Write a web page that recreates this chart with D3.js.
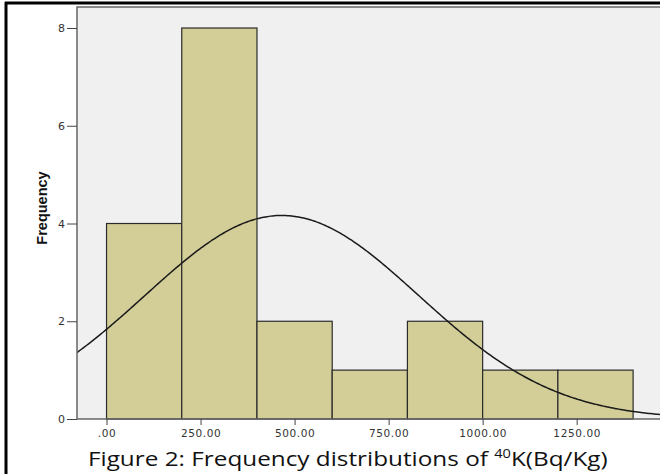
<!DOCTYPE html>
<html><head><meta charset="utf-8">
<script src="https://cdn.jsdelivr.net/npm/d3@7"></script>
<style>body{margin:0;background:#fff;overflow:hidden}svg{display:block;overflow:hidden}</style>
</head><body>
<svg id="c" width="660" height="474"></svg>
<script>
// Data
const binStarts = [0, 200, 400, 600, 800, 1000, 1200];
const binWidth = 200;
const counts = [4, 8, 2, 1, 2, 1, 1];
const xTicks = [0, 250, 500, 750, 1000, 1250];
const xTickLabels = [".00", "250.00", "500.00", "750.00", "1000.00", "1250.00"];
const yTicks = [0, 2, 4, 6, 8];
const curveMean = 466;
const curveSD = 364;
const yLabel = "Frequency";
const caption = "Figure 2: Frequency distributions of ";

const svg = d3.select("#c");
const L = 77, T = 7, R = 660, B = 419;
const x = d3.scaleLinear().domain([-78.5, 1471.5]).range([L, R]);
const y = d3.scaleLinear().domain([0, 8.43]).range([B, T]);

// plot background
svg.append("rect").attr("x", L).attr("y", T).attr("width", R - L).attr("height", B - T)
  .attr("fill", "#F0F0F0");

// bars
const bins = binStarts.map((s, i) => ({ s, c: counts[i] }));
svg.selectAll("rect.bar").data(bins).enter().append("rect").attr("class", "bar")
  .attr("x", d => x(d.s)).attr("width", d => x(d.s + binWidth) - x(d.s))
  .attr("y", d => y(d.c)).attr("height", d => y(0) - y(d.c))
  .attr("fill", "#D3CE97").attr("stroke", "#2b2b2b").attr("stroke-width", 1.2);

// normal curve
const n = d3.sum(counts);
const f = v => n * binWidth / (curveSD * Math.sqrt(2 * Math.PI)) * Math.exp(-((v - curveMean) ** 2) / (2 * curveSD ** 2));
const xs = d3.range(x.domain()[0], x.domain()[1] + 1, 5);
svg.append("path").datum(xs)
  .attr("d", d3.line().x(v => x(v)).y(v => y(f(v))).curve(d3.curveBasis))
  .attr("fill", "none").attr("stroke", "#1a1a1a").attr("stroke-width", 1.5);

// plot border (left, top, bottom)
svg.append("path").attr("d", `M${L},${B}V${T}H${R}`).attr("fill", "none")
  .attr("stroke", "#666").attr("stroke-width", 1.5);
svg.append("line").attr("x1", L).attr("x2", R).attr("y1", B).attr("y2", B)
  .attr("stroke", "#666").attr("stroke-width", 1.5);

// outer frame (left & top only visible)
svg.append("line").attr("x1", 6).attr("x2", 6).attr("y1", 2).attr("y2", 474).attr("stroke", "#000").attr("stroke-width", 3);
svg.append("line").attr("x1", 5).attr("x2", 660).attr("y1", 3).attr("y2", 3).attr("stroke", "#000").attr("stroke-width", 3);

const tickFont = "DejaVu Sans, Verdana, sans-serif";
// y axis
const yAxis = d3.axisLeft(y).tickValues(yTicks).tickSize(10).tickPadding(2).tickFormat(d3.format("d"));
const ya = svg.append("g").attr("transform", `translate(${L},0)`).call(yAxis);
ya.select(".domain").remove();
ya.selectAll("line").attr("stroke", "#444");
ya.selectAll("text").attr("font-family", tickFont).attr("font-size", 11).attr("fill", "#333");

// x axis
const xAxis = d3.axisBottom(x).tickValues(xTicks).tickSize(6).tickPadding(5).tickFormat((d, i) => xTickLabels[i]);
const xa = svg.append("g").attr("transform", `translate(0,${B})`).call(xAxis);
xa.select(".domain").remove();
xa.selectAll("line").attr("stroke", "#444");
xa.selectAll("text").attr("font-family", tickFont).attr("font-size", 10.5).attr("letter-spacing", 0.6).attr("fill", "#333");

// y label
svg.append("text").attr("transform", "translate(47,208) rotate(-90)")
  .attr("text-anchor", "middle").attr("font-family", "Liberation Sans Narrow, Arial Narrow, Liberation Sans, sans-serif")
  .attr("font-weight", "bold").attr("font-size", 14.5).attr("fill", "#111").text(yLabel);

// caption
const capG = svg.append("g");
const cap = capG.append("text").attr("x", 0).attr("y", 0)
  .attr("font-family", "Open Sans, Noto Sans, sans-serif").attr("font-size", 20).attr("fill", "#111");
cap.append("tspan").text(caption);
cap.append("tspan").attr("font-size", 12).attr("dy", -8).text("40");
cap.append("tspan").attr("dy", 8).text("K(Bq/Kg)");
const w = cap.node().getComputedTextLength();
const sx = 520 / w;
capG.attr("transform", `translate(88,466) scale(${sx},1)`);
</script>
</body></html>
